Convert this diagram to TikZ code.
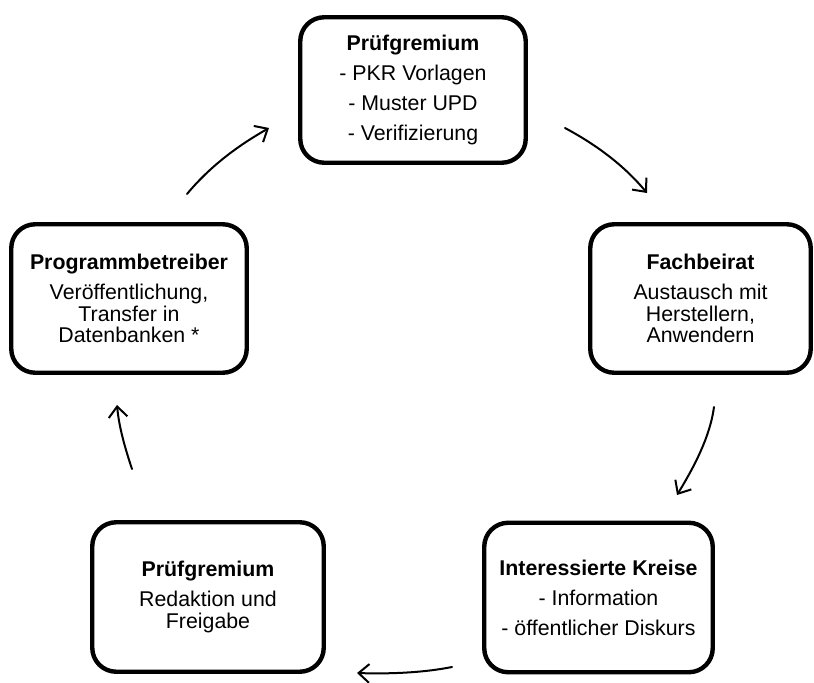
\documentclass[tikz,border=0pt]{standalone}
\usepackage{fontspec}
\setmainfont{Liberation Sans}
\usetikzlibrary{arrows.meta}
\begin{document}
\begin{tikzpicture}[x=0.75pt,y=-0.75pt,
  box/.style={draw,line width=3.3pt,rounded corners=18pt,align=center,inner sep=0pt,
    font=\fontsize{16}{16.2}\selectfont},
  conn/.style={line width=1.5pt,line cap=round,
    -{Straight Barb[length=8pt,width=14pt,line width=1.5pt]}}]
\useasboundingbox (0,0) rectangle (814,682);

\node[box,minimum width=225.5*0.75pt,minimum height=145.5*0.75pt] (pg1) at (413,90)
  {\textbf{Prüfgremium}\\[6.3pt] - PKR Vorlagen\\[6.3pt] - Muster UPD\\[6.3pt] - Verifizierung};
\node[box,minimum width=220.5*0.75pt,minimum height=148.5*0.75pt] (fb) at (700.5,298.5)
  {\textbf{Fachbeirat}\\[6.3pt] Austausch mit\\ Herstellern,\\ Anwendern};
\node[box,minimum width=228.5*0.75pt,minimum height=149.5*0.75pt] (ik) at (598.5,597.5)
  {\textbf{Interessierte Kreise}\\[6.3pt] - Information\\[6.3pt] - öffentlicher Diskurs};
\node[box,minimum width=231.5*0.75pt,minimum height=149.5*0.75pt] (pg2) at (208,597)
  {\textbf{Prüfgremium}\\[6.3pt] Redaktion und\\ Freigabe};
\node[box,minimum width=235.5*0.75pt,minimum height=148.5*0.75pt] (pb) at (129,298.5)
  {\textbf{Programmbetreiber}\\[6.3pt] Veröffentlichung,\\ Transfer in\\ Datenbanken *};

\coordinate (a1s) at (187,194);
\coordinate (a1e) at (269,128);
\coordinate (a2s) at (565,128);
\coordinate (a2e) at (647,193);
\coordinate (a3s) at (714,407);
\coordinate (a3e) at (677,495);
\coordinate (a4s) at (452,667);
\coordinate (a4e) at (357,673);
\coordinate (a5s) at (132,469);
\coordinate (a5e) at (117,405);

\draw[conn] (a1s) .. controls (212,164) and (241,144) .. (a1e);
\draw[conn] (a2s) .. controls (593,143) and (622,163) .. (a2e);
\draw[conn] (a3s) .. controls (710,437) and (694,467) .. (a3e);
\draw[conn] (a4s) .. controls (422,673) and (387,674) .. (a4e);
\draw[conn] (a5s) .. controls (125,448) and (119,427) .. (a5e);
\end{tikzpicture}
\end{document}
